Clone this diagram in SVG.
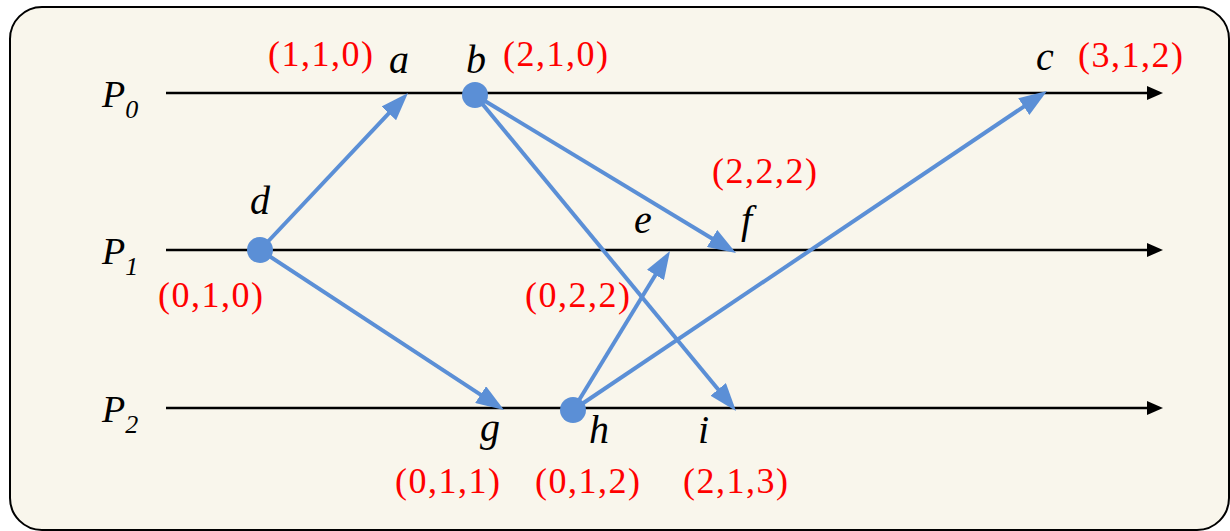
<svg xmlns="http://www.w3.org/2000/svg" width="1230" height="531" viewBox="0 0 1230 531">
<style>
.frame{fill:#F9F6EC;stroke:#000;stroke-width:2}
.axis{stroke:#000;stroke-width:2.5;fill:none}
.msg{stroke:#5B8FD6;stroke-width:4;fill:none}
.dot{fill:#5B8FD6}
text{font-family:'Liberation Serif','DejaVu Serif',serif}
.lbl{font-style:italic;font-size:40px;fill:#000}
.proc{font-style:italic;font-size:38px;fill:#000}
.sub{font-size:26px}
.vc{font-size:36px;fill:#FF0000}
</style>
<defs>
<marker id="ah" markerUnits="userSpaceOnUse" markerWidth="28" markerHeight="20" refX="14" refY="10" orient="auto" viewBox="0 0 28 20">
<path d="M0,0 L28,10 L0,20 z" fill="#5B8FD6"/>
</marker>
<marker id="axh" markerUnits="userSpaceOnUse" markerWidth="16" markerHeight="14" refX="2" refY="7" orient="auto" viewBox="0 0 16 14">
<path d="M0,0 L16,7 L0,14 z" fill="#000"/>
</marker>
</defs>
<rect class="frame" x="10" y="7" width="1219" height="523" rx="32" ry="32"/>
<g id="processes">
<g id="P0"><line class="axis" x1="166" y1="93" x2="1149" y2="93" marker-end="url(#axh)"/><text class="proc" x="102" y="107">P<tspan class="sub" dy="11">0</tspan></text></g>
<g id="P1"><line class="axis" x1="166" y1="250" x2="1149" y2="250" marker-end="url(#axh)"/><text class="proc" x="102" y="264">P<tspan class="sub" dy="11">1</tspan></text></g>
<g id="P2"><line class="axis" x1="166" y1="408" x2="1149" y2="408" marker-end="url(#axh)"/><text class="proc" x="102" y="422">P<tspan class="sub" dy="11">2</tspan></text></g>
</g>
<g id="connectors">
<line class="msg" x1="260" y1="250" x2="398.4" y2="103.2" marker-end="url(#ah)"/>
<line class="msg" x1="260" y1="250" x2="492.3" y2="402.3" marker-end="url(#ah)"/>
<line class="msg" x1="475" y1="95" x2="724.0" y2="245.7" marker-end="url(#ah)"/>
<line class="msg" x1="475" y1="95" x2="727.1" y2="400.2" marker-end="url(#ah)"/>
<line class="msg" x1="573" y1="410" x2="662.7" y2="263.0" marker-end="url(#ah)"/>
<line class="msg" x1="573" y1="410" x2="1035.4" y2="98.8" marker-end="url(#ah)"/>
</g>
<g id="event-a"><text class="lbl" x="389" y="73">a</text><text class="vc" x="268" y="66" textLength="105">(1,1,0)</text></g>
<g id="event-b"><circle class="dot" cx="475" cy="95" r="13"/><text class="lbl" x="466" y="73">b</text><text class="vc" x="503" y="66" textLength="105">(2,1,0)</text></g>
<g id="event-c"><text class="lbl" x="1036" y="70">c</text><text class="vc" x="1078" y="67" textLength="105">(3,1,2)</text></g>
<g id="event-d"><circle class="dot" cx="260" cy="250" r="13"/><text class="lbl" x="250" y="214">d</text><text class="vc" x="158" y="307" textLength="105">(0,1,0)</text></g>
<g id="event-e"><text class="lbl" x="634" y="233">e</text><text class="vc" x="525" y="307" textLength="105">(0,2,2)</text></g>
<g id="event-f"><text class="lbl" x="741" y="233">f</text><text class="vc" x="712" y="183" textLength="105">(2,2,2)</text></g>
<g id="event-g"><text class="lbl" x="480" y="441">g</text><text class="vc" x="395" y="493" textLength="105">(0,1,1)</text></g>
<g id="event-h"><circle class="dot" cx="573" cy="410" r="13"/><text class="lbl" x="589" y="443">h</text><text class="vc" x="535" y="493" textLength="105">(0,1,2)</text></g>
<g id="event-i"><text class="lbl" x="698" y="443">i</text><text class="vc" x="683" y="493" textLength="105">(2,1,3)</text></g>
</svg>
